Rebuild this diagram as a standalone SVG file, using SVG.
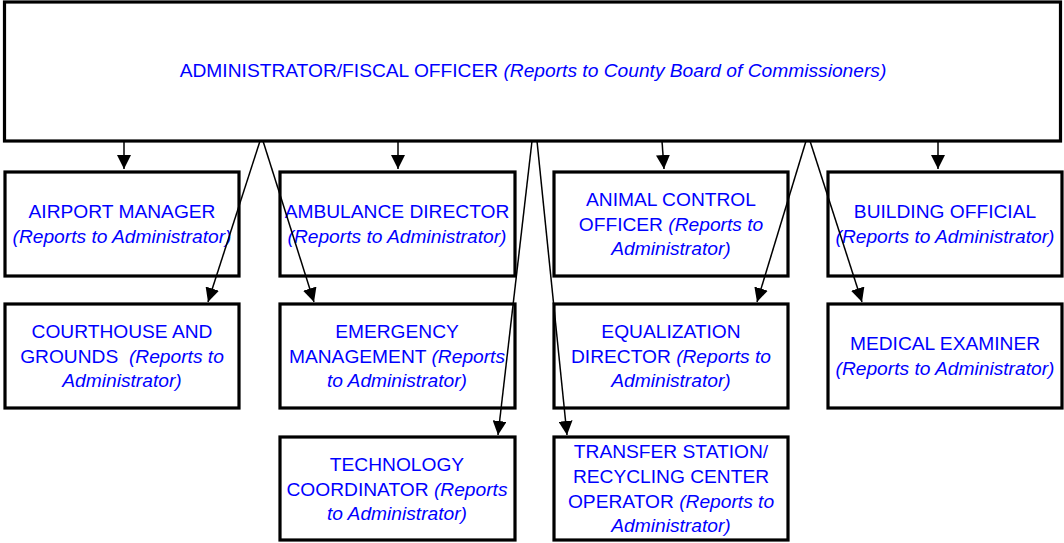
<svg xmlns="http://www.w3.org/2000/svg" width="1064" height="543" viewBox="0 0 1064 543">
<style>
.box{fill:#fff;stroke:#000;stroke-width:3.2}
.t{font-family:"Liberation Sans",Arial,sans-serif;font-size:19.2px;fill:#0000ff;text-anchor:middle}
.i{font-style:italic}
.c{stroke:#000;stroke-width:1.5;fill:none}
</style>
<defs>
<marker id="ah" markerUnits="userSpaceOnUse" markerWidth="14" markerHeight="14" viewBox="0 0 12 12" refX="12" refY="6" orient="auto">
<path d="M0,0 L12,6 L0,12 z" fill="#000"/>
</marker>
</defs>
<rect width="1064" height="543" fill="#fff"/>
<g id="administrator">
<rect class="box" x="4.5" y="2" width="1056" height="139"/>
<text class="t" x="533" y="77">ADMINISTRATOR/FISCAL OFFICER <tspan class="i">(Reports to County Board of Commissioners)</tspan></text>
</g>
<g id="airport">
<rect class="box" x="5" y="172" width="234" height="104"/>
<text class="t" x="122" y="218">AIRPORT MANAGER</text>
<text class="t i" x="122" y="243">(Reports to Administrator)</text>
</g>
<g id="ambulance">
<rect class="box" x="280" y="172" width="235" height="104"/>
<text class="t" x="397" y="218">AMBULANCE DIRECTOR</text>
<text class="t i" x="397" y="243">(Reports to Administrator)</text>
</g>
<g id="animal">
<rect class="box" x="554" y="172" width="234" height="104"/>
<text class="t" x="671" y="206">ANIMAL CONTROL</text>
<text class="t" x="671" y="231">OFFICER <tspan class="i">(Reports to</tspan></text>
<text class="t i" x="671" y="255">Administrator)</text>
</g>
<g id="building">
<rect class="box" x="828" y="172" width="234" height="104"/>
<text class="t" x="945" y="218">BUILDING OFFICIAL</text>
<text class="t i" x="945" y="243">(Reports to Administrator)</text>
</g>
<g id="courthouse">
<rect class="box" x="5" y="304" width="234" height="104"/>
<text class="t" x="122" y="338">COURTHOUSE AND</text>
<text class="t" x="122" y="363" xml:space="preserve">GROUNDS  <tspan class="i">(Reports to</tspan></text>
<text class="t i" x="122" y="387">Administrator)</text>
</g>
<g id="emergency">
<rect class="box" x="280" y="304" width="235" height="104"/>
<text class="t" x="397" y="338">EMERGENCY</text>
<text class="t" x="397" y="363">MANAGEMENT <tspan class="i">(Reports</tspan></text>
<text class="t i" x="397" y="387">to Administrator)</text>
</g>
<g id="equalization">
<rect class="box" x="554" y="304" width="234" height="104"/>
<text class="t" x="671" y="338">EQUALIZATION</text>
<text class="t" x="671" y="363">DIRECTOR <tspan class="i">(Reports to</tspan></text>
<text class="t i" x="671" y="387">Administrator)</text>
</g>
<g id="medical">
<rect class="box" x="828" y="304" width="234" height="104"/>
<text class="t" x="945" y="350">MEDICAL EXAMINER</text>
<text class="t i" x="945" y="375">(Reports to Administrator)</text>
</g>
<g id="technology">
<rect class="box" x="280" y="437" width="235" height="103"/>
<text class="t" x="397" y="471">TECHNOLOGY</text>
<text class="t" x="397" y="496">COORDINATOR <tspan class="i">(Reports</tspan></text>
<text class="t i" x="397" y="520">to Administrator)</text>
</g>
<g id="transfer">
<rect class="box" x="554" y="437" width="234" height="103"/>
<text class="t" x="671" y="458">TRANSFER STATION/</text>
<text class="t" x="671" y="483">RECYCLING CENTER</text>
<text class="t" x="671" y="508">OPERATOR <tspan class="i">(Reports to</tspan></text>
<text class="t i" x="671" y="532">Administrator)</text>
</g>
<g id="connectors">
<line class="c" x1="124" y1="141" x2="124" y2="169" marker-end="url(#ah)"/>
<line class="c" x1="398" y1="141" x2="398" y2="169" marker-end="url(#ah)"/>
<line class="c" x1="662" y1="141" x2="664" y2="169" marker-end="url(#ah)"/>
<line class="c" x1="938" y1="141" x2="938" y2="169" marker-end="url(#ah)"/>
<line class="c" x1="260" y1="141" x2="208" y2="302" marker-end="url(#ah)"/>
<line class="c" x1="263" y1="141" x2="314" y2="302" marker-end="url(#ah)"/>
<line class="c" x1="532" y1="141" x2="498" y2="435" marker-end="url(#ah)"/>
<line class="c" x1="537" y1="141" x2="567" y2="435" marker-end="url(#ah)"/>
<line class="c" x1="806" y1="141" x2="757" y2="302" marker-end="url(#ah)"/>
<line class="c" x1="810" y1="141" x2="862" y2="302" marker-end="url(#ah)"/>
</g>
</svg>
